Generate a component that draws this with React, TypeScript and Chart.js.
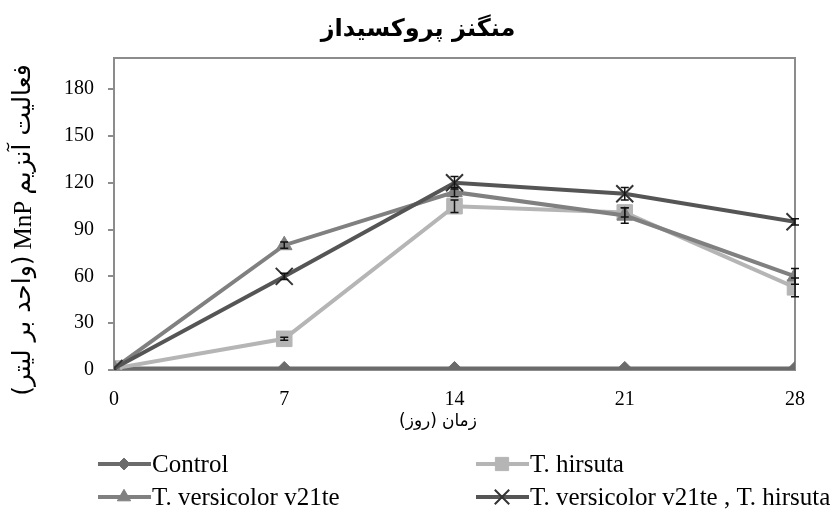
import { useEffect, useRef } from 'react';
import { Chart, registerables } from 'chart.js';
import { drawPoint } from 'chart.js/helpers';

Chart.register(...registerables);

const days = [0, 7, 14, 21, 28];
const controlValues = [1, 1, 1, 1, 1];
const hirsutaValues = [1, 20, 105, 101, 53];
const versicolorValues = [1, 80, 114, 99, 60];
const comboValues = [1, 60, 120, 113, 95];
const hirsutaErr = [0, 1, 4, 3, 6];
const versicolorErr = [0, 2, 3, 5, 5];
const comboErr = [0, 2, 4, 4, 2];
const yTicks = [0, 30, 60, 90, 120, 150, 180];
const xTicks = [0, 7, 14, 21, 28];
const seriesNames = ['Control', 'T. hirsuta', 'T. versicolor v21te', 'T. versicolor v21te , T. hirsuta'];
const titleText = 'منگنز پروکسیداز';
const xTitleParts = ['(روز)', 'زمان'];
const yTitleParts = ['(واحد بر لیتر)', 'MnP', 'فعالیت آنزیم'];

const SERIF = "'Liberation Serif', 'Times New Roman', serif";
const ARABIC = "'DejaVu Sans', sans-serif";

type Style = { color: string; marker: string; radius: number; markerFill: string; markerBorder: string; markerBorderWidth: number; order: number };

const styles: Style[] = [
  { color: '#6b6b6b', marker: 'rectRot', radius: 7, markerFill: '#6b6b6b', markerBorder: '#6b6b6b', markerBorderWidth: 1, order: 3 },
  { color: '#b5b5b5', marker: 'rect', radius: 11, markerFill: '#b5b5b5', markerBorder: '#b5b5b5', markerBorderWidth: 1, order: 2 },
  { color: '#808080', marker: 'triangle', radius: 9, markerFill: '#808080', markerBorder: '#808080', markerBorderWidth: 1, order: 1 },
  { color: '#555555', marker: 'crossRot', radius: 12, markerFill: '#333333', markerBorder: '#333333', markerBorderWidth: 2, order: 0 },
];

const seriesValues = [controlValues, hirsutaValues, versicolorValues, comboValues];
const seriesErrors: (number[] | null)[] = [null, hirsutaErr, versicolorErr, comboErr];

export default function App() {
  const ref = useRef<HTMLCanvasElement>(null);

  useEffect(() => {
    const canvas = ref.current!;

    const framePlugin = {
      id: 'frame',
      beforeDatasetsDraw(chart: any) {
        const { ctx, chartArea: a } = chart;
        ctx.save();
        ctx.strokeStyle = '#8c8c8c';
        ctx.lineWidth = 2;
        ctx.beginPath();
        ctx.moveTo(a.left, a.top);
        ctx.lineTo(a.right, a.top);
        ctx.lineTo(a.right, a.bottom);
        ctx.stroke();
        ctx.restore();
      },
    };

    const errorPlugin = {
      id: 'errbars',
      afterDatasetsDraw(chart: any) {
        const { ctx } = chart;
        const yScale = chart.scales.y;
        ctx.save();
        ctx.strokeStyle = '#111111';
        ctx.lineWidth = 1.5;
        chart.data.datasets.forEach((ds: any, di: number) => {
          const errs = seriesErrors[di];
          if (!errs) return;
          const meta = chart.getDatasetMeta(di);
          meta.data.forEach((pt: any, i: number) => {
            const e = errs[i];
            if (!e) return;
            const v = seriesValues[di][i];
            const yt = yScale.getPixelForValue(v + e);
            const yb = yScale.getPixelForValue(v - e);
            ctx.beginPath();
            ctx.moveTo(pt.x, yt);
            ctx.lineTo(pt.x, yb);
            ctx.moveTo(pt.x - 4, yt);
            ctx.lineTo(pt.x + 4, yt);
            ctx.moveTo(pt.x - 4, yb);
            ctx.lineTo(pt.x + 4, yb);
            ctx.stroke();
          });
        });
        ctx.restore();
      },
    };

    const drawParts = (ctx: CanvasRenderingContext2D, parts: string[], fonts: string[], gap: number, cx: number, cy: number, offsets: number[]) => {
      const widths = parts.map((t, i) => {
        ctx.font = fonts[i];
        return ctx.measureText(t).width;
      });
      const total = widths.reduce((s, w) => s + w, 0) + gap * (widths.length - 1);
      let x = cx - total / 2;
      ctx.textAlign = 'left';
      parts.forEach((t, i) => {
        ctx.font = fonts[i];
        ctx.fillText(t, x, cy + offsets[i]);
        x += widths[i] + gap;
      });
    };

    const textPlugin = {
      id: 'texts',
      afterDraw(chart: any) {
        const { ctx } = chart;
        ctx.save();
        ctx.fillStyle = '#000';
        ctx.textBaseline = 'middle';
        // Title
        ctx.font = `bold 24px ${ARABIC}`;
        ctx.textAlign = 'center';
        ctx.fillText(titleText, 418, 30);
        // X title
        drawParts(ctx, xTitleParts, [`17px ${ARABIC}`, `17px ${ARABIC}`], 5, 438, 422, [0, 0]);
        // Y title, rotated
        ctx.translate(23, 230);
        ctx.rotate(-Math.PI / 2);
        drawParts(ctx, yTitleParts, [`25px ${ARABIC}`, `25px ${SERIF}`, `25px ${ARABIC}`], 6, 0, 0, [0, 1, 0]);
        ctx.restore();

        // Legend
        ctx.save();
        ctx.font = `25px ${SERIF}`;
        ctx.textBaseline = 'middle';
        ctx.textAlign = 'left';
        seriesNames.forEach((name, i) => {
          const st = styles[i];
          const col = i % 2;
          const row = Math.floor(i / 2);
          const x0 = col === 0 ? 98 : 476;
          const y = row === 0 ? 464 : 497;
          ctx.strokeStyle = st.color;
          ctx.lineWidth = 4;
          ctx.beginPath();
          ctx.moveTo(x0, y);
          ctx.lineTo(x0 + 53, y);
          ctx.stroke();
          ctx.fillStyle = st.markerFill;
          ctx.strokeStyle = st.markerBorder;
          ctx.lineWidth = st.markerBorderWidth;
          drawPoint(ctx, { pointStyle: st.marker as any, radius: st.radius * 0.85, rotation: 0, borderWidth: st.markerBorderWidth }, x0 + 26, y);
          ctx.fillStyle = '#000';
          ctx.fillText(name, x0 + 54, y + 1);
        });
        ctx.restore();
      },
    };

    const datasets = seriesNames.map((name, i) => {
      const st = styles[i];
      return {
        label: name,
        data: days.map((d, j) => ({ x: d, y: seriesValues[i][j] })),
        borderColor: st.color,
        backgroundColor: st.markerFill,
        borderWidth: 4,
        pointStyle: st.marker,
        pointRadius: st.radius,
        pointBackgroundColor: st.markerFill,
        pointBorderColor: st.markerBorder,
        pointBorderWidth: st.markerBorderWidth,
        tension: 0,
        order: st.order,
      };
    });

    const chart = new Chart(canvas, {
      type: 'line',
      data: { datasets },
      options: {
        animation: false,
        responsive: false,
        devicePixelRatio: 1,
        layout: { padding: { left: 54, right: 42, top: 58, bottom: 0 } },
        plugins: { legend: { display: false }, tooltip: { enabled: false }, title: { display: false } },
        scales: {
          x: {
            type: 'linear',
            min: 0,
            max: 28,
            afterBuildTicks: (scale: any) => {
              scale.ticks = xTicks.map((v) => ({ value: v }));
            },
            afterFit: (scale: any) => {
              scale.height = 144;
            },
            grid: { display: false, drawTicks: false },
            border: { display: true, color: '#8c8c8c', width: 2 },
            ticks: { padding: 18, color: '#000', font: { family: SERIF, size: 20 }, maxRotation: 0, autoSkip: false },
          },
          y: {
            type: 'linear',
            min: 0,
            max: 200,
            afterBuildTicks: (scale: any) => {
              scale.ticks = yTicks.map((v) => ({ value: v }));
            },
            afterFit: (scale: any) => {
              scale.width = 60;
            },
            grid: { drawOnChartArea: false, drawTicks: true, tickLength: 6, color: '#8c8c8c', lineWidth: 2 },
            border: { display: true, color: '#8c8c8c', width: 2 },
            ticks: { padding: 14, color: '#000', font: { family: SERIF, size: 20 } },
          },
        },
      },
      plugins: [framePlugin, errorPlugin, textPlugin],
    } as any);

    return () => chart.destroy();
  }, []);

  return (
    <div style={{ position: 'absolute', left: 0, top: 0, width: 837, height: 514, background: '#fff' }}>
      <canvas ref={ref} width={837} height={514} style={{ display: 'block' }} />
    </div>
  );
}
